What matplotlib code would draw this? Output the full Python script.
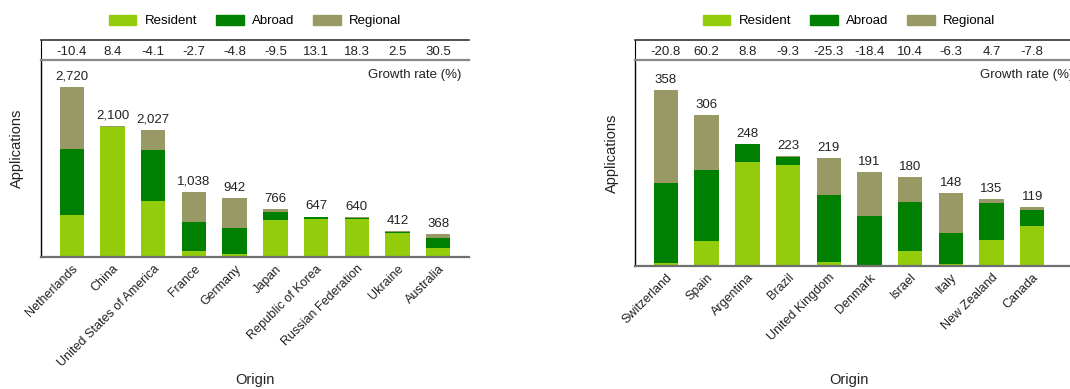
import numpy as np
import matplotlib
matplotlib.use("Agg")
import matplotlib.pyplot as plt
from matplotlib.patches import Patch

plt.rcParams['font.family'] = ['Liberation Sans', 'DejaVu Sans']
plt.rcParams['font.size'] = 9

# left panel
origins_l = ["Netherlands", "China", "United States of America", "France", "Germany",
             "Japan", "Republic of Korea", "Russian Federation", "Ukraine", "Australia"]
resident_l = [675, 2070, 893, 100, 50, 595, 616, 618, 393, 150]
abroad_l = [1053, 5, 818, 458, 420, 128, 22, 6, 16, 163]
regional_l = [992, 25, 316, 480, 472, 43, 9, 16, 3, 55]
totals_l = [2720, 2100, 2027, 1038, 942, 766, 647, 640, 412, 368]
growth_l = ["-10.4", "8.4", "-4.1", "-2.7", "-4.8", "-9.5", "13.1", "18.3", "2.5", "30.5"]

# right panel
origins_r = ["Switzerland", "Spain", "Argentina", "Brazil", "United Kingdom", "Denmark",
             "Israel", "Italy", "New Zealand", "Canada"]
resident_r = [5, 50, 211, 205, 7, 0, 30, 3, 52, 81]
abroad_r = [163, 145, 37, 17, 137, 102, 100, 64, 76, 32]
regional_r = [190, 111, 0, 1, 75, 89, 50, 81, 7, 6]
totals_r = [358, 306, 248, 223, 219, 191, 180, 148, 135, 119]
growth_r = ["-20.8", "60.2", "8.8", "-9.3", "-25.3", "-18.4", "10.4", "-6.3", "4.7", "-7.8"]

C_RES = "#92CC0A"
C_ABR = "#008000"
C_REG = "#999966"
TXT = "#222222"

W, H = 1070, 389
fig = plt.figure(figsize=(W / 100, H / 100), dpi=100)


def px(x0, y_top, x1, y_bot):
    # pixel box -> figure fraction rect
    return [x0 / W, 1 - y_bot / H, (x1 - x0) / W, (y_bot - y_top) / H]


def panel(x0, x1, base, xmax, ytop, cats, res, abr, reg, tot, gr, cx, ylab_x):
    ax = fig.add_axes(px(x0, 60, x1, base))
    band = fig.add_axes(px(x0, 40, x1, 60), sharex=ax)
    x = np.arange(len(cats))
    res = np.array(res); abr = np.array(abr); reg = np.array(reg)
    ax.bar(x, res, 0.6, color=C_RES)
    ax.bar(x, abr, 0.6, bottom=res, color=C_ABR)
    ax.bar(x, reg, 0.6, bottom=res + abr, color=C_REG)
    for xi, t in zip(x, tot):
        ax.annotate(f"{t:,}", (xi, t), xytext=(0, 7.5), textcoords="offset points",
                    ha="center", va="center", fontsize=9.5, color=TXT)
    ax.set_xlim(-0.76, xmax)
    ax.set_ylim(0, ytop)
    ax.set_yticks([])
    ax.set_xticks(x)
    ax.set_xticklabels(cats, rotation=45, ha="right", rotation_mode="anchor",
                       fontsize=9, color=TXT)
    ax.tick_params(axis="x", length=0, pad=4)
    for s in ["top", "right"]:
        ax.spines[s].set_visible(False)
    ax.spines["left"].set_color("black")
    ax.spines["left"].set_linewidth(1.0)
    ax.spines["bottom"].set_color("#707070")
    ax.spines["bottom"].set_linewidth(1.6)
    ax.text(1 - 8 / (x1 - x0), 1 - 15 / (base - 60), "Growth rate (%)",
            transform=ax.transAxes, ha="right", va="center", fontsize=9.5, color=TXT)

    band.set_ylim(0, 1)
    band.set_yticks([])
    band.tick_params(axis="x", length=0, labelbottom=False)
    band.spines["right"].set_visible(False)
    band.spines["top"].set_color("#333333")
    band.spines["top"].set_linewidth(1.2)
    band.spines["bottom"].set_color("#888888")
    band.spines["bottom"].set_linewidth(1.6)
    band.spines["left"].set_color("black")
    for xi, g in zip(x, gr):
        band.text(xi, 0.4, g, ha="center", va="center", fontsize=9.5, color=TXT)

    fig.text(ylab_x / W, 1 - (40 + base) / 2 / H, "Applications", rotation=90,
             ha="center", va="center", fontsize=10.5, color=TXT)
    fig.text(cx / W, 1 - 380 / H, "Origin", ha="center", va="center",
             fontsize=10.5, color=TXT)
    handles = [Patch(color=C_RES, label="Resident"), Patch(color=C_ABR, label="Abroad"),
               Patch(color=C_REG, label="Regional")]
    fig.legend(handles=handles, loc="center", bbox_to_anchor=(cx / W, 1 - 21 / H),
               ncol=3, frameon=False, fontsize=9.5, handlelength=2.1, handleheight=0.8,
               handletextpad=0.65, columnspacing=1.4)


panel(41, 469, 257.3, 9.76, 3146, origins_l, resident_l, abroad_l, regional_l,
      totals_l, growth_l, 255, 17)
panel(635, 1081, 265.7, -0.76 + (1081 - 635) / 40.7, 419, origins_r, resident_r,
      abroad_r, regional_r, totals_r, growth_r, 849, 612)

fig.savefig("out.png", dpi=100)
